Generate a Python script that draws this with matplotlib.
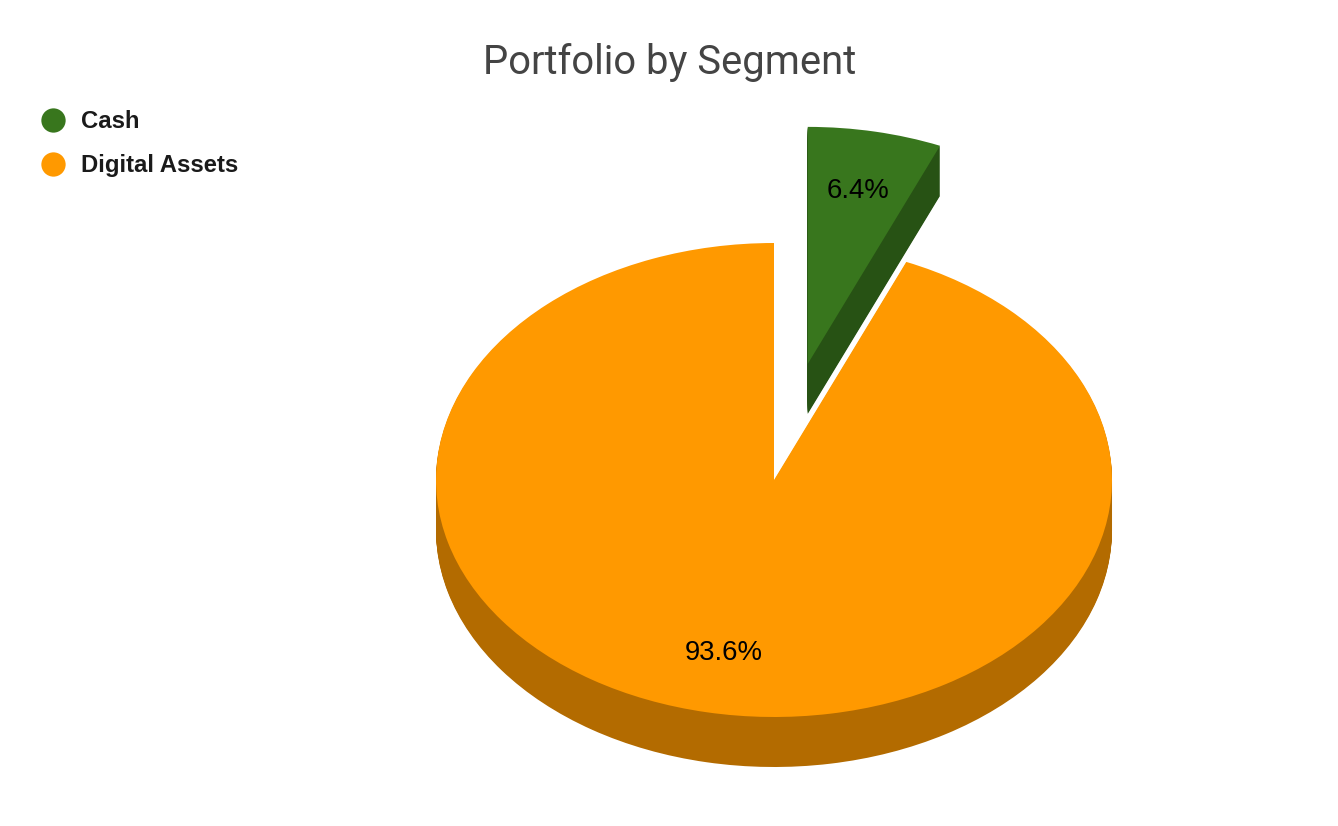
import matplotlib
matplotlib.use('Agg')
import matplotlib.pyplot as plt
from matplotlib.lines import Line2D

labels = ['Cash', 'Digital Assets']
shares = [6.4, 93.6]
top_colors = ['#38761d', '#ff9900']
side_colors = ['#275214', '#b36b00']
explode = [0.5, 0]

W, H = 1338, 826
cx, cy = 774, 480   # pie centre in px
rx, ry = 338, 237   # squashed radius in px
depth = 50          # thickness in px

fig = plt.figure(figsize=(W / 100, H / 100), dpi=100)
ax = fig.add_axes([0, 0, 1, 1])

# side of the pie: same pie stacked downwards, dark colour
for d in range(depth, 0, -1):
    ax.pie(shares, colors=side_colors, explode=explode, startangle=90,
           counterclock=False, radius=1, center=(0, -d / ry), frame=True,
           wedgeprops={'linewidth': 0})

wedges, _, pcts = ax.pie(shares, colors=top_colors, explode=explode, startangle=90,
                         counterclock=False, radius=1, center=(0, 0), frame=True,
                         autopct='%.1f%%', pctdistance=0.745,
                         wedgeprops={'linewidth': 0},
                         textprops={'family': 'Liberation Sans', 'fontsize': 19.8, 'color': 'black'})

ax.set_aspect('auto')
ax.set_xlim(-cx / rx, (W - cx) / rx)
ax.set_ylim((cy - H) / ry, cy / ry)
ax.axis('off')

fig.text(669.5 / W, 1 - 62 / H, 'Portfolio by Segment', family='Roboto', fontsize=28.8,
         color='#444444', ha='center', va='center')

handles = [Line2D([], [], linestyle='', marker='o', markersize=17.5, color=c, markeredgewidth=0)
           for c in top_colors]
ax.legend(handles, labels, loc='upper left', bbox_to_anchor=(36 / W, 1 - 110 / H),
          bbox_transform=fig.transFigure, frameon=False, borderpad=0, borderaxespad=0,
          handlelength=1.4, handletextpad=0.5, labelspacing=0.88,
          prop={'family': 'Liberation Sans', 'weight': 'bold', 'size': 17.2}, labelcolor='#1a1a1a')

fig.savefig('out.png', dpi=100, facecolor='white')
